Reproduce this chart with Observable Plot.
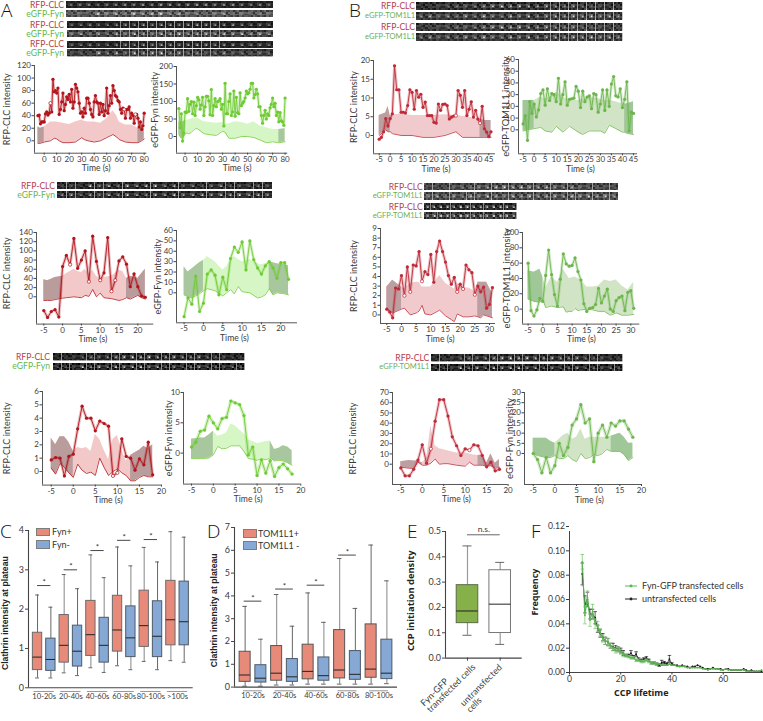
<!DOCTYPE html>
<html><head><meta charset="utf-8">
<script src="https://cdn.jsdelivr.net/npm/d3@7"></script>
<script src="https://cdn.jsdelivr.net/npm/@observablehq/plot@0.6"></script>
<style>
html,body{margin:0;padding:0;background:#fff}
#fig{position:relative;width:763px;height:721px;overflow:hidden;font-family:Lato,"Open Sans",sans-serif}
#fig>div{position:absolute}
.lab{text-align:right;white-space:nowrap;font-size:8.6px;line-height:10px}
.pl{font-family:"Open Sans",sans-serif;font-weight:300;font-size:19px;line-height:19px;color:#111}
.leg{font-size:9px;line-height:10px;color:#333;white-space:nowrap}
</style></head><body><div id="fig"></div>
<script>
// ---------- traces: values at 1 s steps from start; bands are [t, lower, upper]
const a1rValues=[40,41,27,30,30,30,43,46,41,44, 60,46,98,78,80,76,84,42,50,62, 76,48,58,70,66,74,62,82,52,62, 90,84,78,60,44,46,38,52,44,68, 68,60,50,42,38,62,72,62,60,42, 60,46,58,40,48,84,44,56,72,60, 88,80,72,70,64,62,50,44,52,50, 36,50,50,54,36,44,40,28,42,42, 36,22,30,18,24,44];
const a1rBand=[[-5,-4,22],[-3,-4,20],[0,-2,22],[5,0,30],[8,4,30],[10,3,30],[12,0,29],[15,-3,28],[20,-3,26],[25,-2,30],[30,5,33],[32,2,31],[35,0,30],[40,-2,30],[45,0,28],[50,5,35],[55,10,48],[58,6,40],[60,2,30],[65,-2,25],[70,-3,25],[75,-3,20],[78,0,20],[80,3,20]];
const a1gValues=[80,25,65,-13,10,70,68,108,72,92, 100,65,98,60,88,112,105,78,90,112, 60,85,115,115,102,62,134,60,88,108, 85,100,102,108,78,92,30,152,65,65, 100,122,60,70,130,58,112,68,65,125, 88,95,100,110,130,122,125,135,152,152, 110,120,135,122,85,85,60,38,60,75, 50,65,60,82,92,110,85,95,60,70, 42,68,45,42,32,110];
const a1gBand=[[-5,5,42],[-3,-5,40],[0,5,45],[1,10,46],[3,8,48],[5,12,50],[8,22,52],[10,22,52],[15,8,42],[20,5,40],[25,3,38],[30,15,40],[32,12,36],[35,-5,36],[40,-5,42],[45,0,40],[50,0,35],[55,-3,42],[60,-10,30],[65,-18,25],[70,-15,20],[75,-18,20],[80,-15,22]];
const b1rValues=[-1,-.5,1,4.5,2.5,4.5,5.8,18.6,12.2,12.2,6.2,6.2,6,8,12.2,11.5,7,12,10.2,11,7.5,8.9,5.3,5.3,5.3,3.5,3.3,8.4,6.7,8.3,8.4,8,4.4,4.9,5.2,5.3,12,10.7,7.5,12,5.3,7,9,4.9,6.7,4.4,3.3,7.8,1.8,.9,-.3,1];
const b1rBand=[[-5,0,5.3],[-2,1.5,6],[-1,1,7.7],[0,1,5.3],[1,.5,5.4],[5,0,5.8],[10,0,5.3],[15,-.5,5.3],[20,-.5,5.3],[25,0,5.5],[30,1,5.3],[33,-.5,5.1],[35,-.5,5],[40,-.5,4.4],[41,-.5,4.3],[43,-.5,4],[46,-.5,4]];
const b1gValues=[5,12,-9,24,14,22,11,17,31,34,21,35,25,31,30,24,44,22,30,41,21,26,26.5,27,37,33,19,33,24,28,29,18,31,30,15,22,34,16.5,34,20,39,45.5,29,28,35,19,26,41,-1,15,14];
const b1gBand=[[-5,-1,25],[-3,0,25],[0,1,25],[3,2,28],[5,-1,26],[8,-2,29],[10,3,32],[13,-2,28],[16,3,25],[20,-2,25],[22,-4,26],[25,-1,28],[30,-1,26],[32,-3,25],[34,4,25],[37,1,24],[40,-2,22],[41,-2,22],[42,-3,22],[45,-4,24]];
const a2rValues=[-30,-45,-32,-28,-44,66,90,70,127,62,80,100,33,132,77,36,52,129,12,36,78,87,71,22,50,22,2,-1];
const a2rBand=[[-5,-8,37],[-4,-8,35],[-3,-8,38],[-2,-6,42],[0,-3,45],[1,-2,50],[3,0,60],[4,-1,55],[5,-2,53],[6,3,60],[7,1,50],[8,16,58],[9,0,45],[10,8,40],[11,-2,42],[13,-4,45],[15,-8,58],[16,-6,55],[17,-2,40],[18,-5,45],[20,3,40],[21,-2,50],[22,-5,60]];
const a2gValues=[-23,-5,-11,16,-18,-10,18,22,17,-2,15,3,33,44,39,49,22,50,32,24,18,26,30,24,14,29,29,13];
const a2gBand=[[-5,-2,25],[-4,-4,20],[-3,-5,23],[-1,-1,29],[0,2,31],[1,4,35],[3,2,30],[5,-3,22],[6,0,25],[7,3,32],[8,-1,35],[9,6,32],[10,1,30],[12,0,32],[14,-5,28],[15,-4,27],[16,-2,28],[17,4,30],[18,-2,29],[19,0,28],[21,-1,27],[22,-2,26]];
const b2rValues=[.6,.3,-.3,2.8,2.7,4.1,2,5,2.4,5.2,5.1,6.6,3.5,4.5,4.2,6.3,3.4,6.6,7.7,6.6,5.5,4.1,3.2,3.9,2.4,3.2,2.7,5.2,4.7,4.4,2.1,3,2.4,2.9,.7,1.1,2.85];
const b2rBand=[[-5,.6,2.9],[-3,.2,3.6],[0,.6,2.9],[1,.7,2.7],[3,0,3.3],[5,.2,3.4],[6,.4,3.4],[7,1,2.9],[8,.1,2.9],[10,0,2.9],[13,.5,4.1],[15,-.1,3.3],[17,-.5,2.9],[18,-.7,2.7],[19,.1,3.3],[21,-.2,2.8],[23,-.2,2.8],[25,-.1,2.4],[26,-.2,3.4],[27,-.3,3.4],[28,0,3.4],[29,-.1,3.4],[30,-.2,2.8],[31,-.3,2.2]];
const b2gValues=[60,-2,-9,-1,14,10,44,77,45,19,4,39,72,59,56,57,67,49,38,7,-3,1,2,6,27,8,17,26,0,-3,11,15,17,-2,22,24,1];
const b2gBand=[[-5,13,50],[-3,10,48],[-1,9,52],[0,13,42],[1,2,28],[3,4,42],[5,2,35],[7,3,52],[8,-4,46],[9,-3,40],[10,-3,41],[11,1,42],[12,-2,40],[13,-1,38],[15,0,29],[17,-1,29],[19,-3,30],[21,-3,38],[23,-8,36],[25,-5,38],[27,-8,30],[29,-8,25],[31,-7,35]];
const a3rValues=[.87,1.05,1,-.33,1.13,1.3,3.2,4.9,4,4,3.05,3.78,3.6,3.4,-.33,-.1,2.45,1.13,1,.1,.95,.5,2.2,-.25];
const a3rBand=[[-5,.25,2.5],[-4,-.2,2],[-3,.6,2.6],[-2,.3,2.6],[-1,-.1,2.2],[0,-.45,1.5],[1,.55,1.8],[2,.1,1.7],[3,-.15,1.8],[4,-.05,1.5],[5,-.3,2.8],[6,1,2.4],[7,.3,1.6],[8,-.3,.9],[9,0,2.4],[10,.2,2.7],[11,-.1,1.6],[12,-.3,.8],[13,-.7,1.2],[14,-.7,1.4],[15,-.45,1.6],[16,-.3,1.9],[17,-.4,1.7],[18,-.4,2]];
const a3gValues=[1,1.8,3.6,3.8,6.1,5,4,5.7,5.9,8.6,8.3,8,6.2,-.3,1,-3.7,-1.15,-3.3,-1.25,-3.85,-2.4,-1.8,-2.6,-3.45];
const a3gBand=[[-5,-.9,2.3],[-3,-.9,2.5],[-2,-.9,2.5],[-1,-.8,3],[0,-.3,3.6],[1,1.1,2.8],[2,.7,3],[3,.8,3.3],[4,1.2,4.8],[5,1.2,4.5],[6,1.2,3.8],[7,.3,3.2],[8,-.9,2.2],[9,-1,1.9],[10,-1.2,1.6],[11,-.9,1.7],[12,-1.1,1.9],[13,-.8,2],[14,-1.3,.6],[15,-1.2,.8],[16,-1.3,1.2],[17,-1.6,1],[18,-2,.4]];
const b3rValues=[-3.6,-11.4,-11.4,-5,4,19,1,15,42,63,63,47,26.7,18,8.5,15,13.7,19,18,8.5,-2.6,2,-6.5,-5];
const b3rBand=[[-5,-3,2.5],[-3,-4,3.5],[-2,-4,3.2],[-1,2,3],[0,-1,1.5],[1,-1,5],[2,1,37],[3,5,18],[4,0,15],[5,.5,14],[6,.5,13],[8,-1,11],[10,-2,11],[11,2,10],[12,-1,9],[13,-1,8.5],[14,-1,9],[15,-2,1],[16,-1.5,10],[17,-4,1],[18,-3,4.5]];
const b3gValues=[0,-3,-9.5,-2,-9.5,-6,5,-1,3,14,17,24,15,17,-4,10,14,8,15,13.5,16,16,12,8];
const b3gBand=[[-5,0,7.5],[-4,-1,7.5],[-2,-2,7.5],[-1,-2,6],[0,-1,5],[1,-2.5,7],[2,-2.5,9],[3,-1,10],[4,-3,7],[5,-4,8],[6,0,12],[7,-2.5,7],[8,-2,8],[9,-.5,8],[10,-1,8],[11,0,8],[12,2,8],[13,1,8.5],[15,1,10],[16,-.5,8],[17,-3.5,5],[18,-2,5]];

// ---------- box plots: rows are [whisker high, q3, median, q1, whisker low]
const cCategories=["10-20s","20-40s","40-60s","60-80s","80-100s",">100s"];
const cPlus=[[2.36,1.4,.78,.45,.25],[2.88,1.85,1.08,.64,.38],[3.38,2.21,1.35,.81,.51],[3.58,2.34,1.47,.92,.56],[3.57,2.47,1.58,1.04,.67],[3.97,2.72,1.73,1.08,.69]];
const cMinus=[[2.05,1.25,.72,.43,.25],[2.52,1.58,.93,.54,.31],[2.8,1.78,1.08,.64,.39],[3.1,2.07,1.27,.78,.46],[3.2,2.2,1.31,.78,.46],[3.83,2.7,1.68,1.08,.65]];
const cSig=[2.6,3.0,3.49,3.75,3.77];
const dCategories=["10-20s","20-40s","40-60s","60-80s","80-100s"];
const dPlus=[[3.54,1.55,.53,.23,.04],[4.06,1.8,.61,.28,.09],[4.13,1.86,.69,.34,.13],[5.64,2.5,.75,.38,.13],[6.23,2.75,.79,.41,.13]];
const dMinus=[[2.1,.96,.39,.2,.04],[2.67,1.23,.45,.23,.09],[2.84,1.3,.5,.28,.13],[3.45,1.58,.56,.32,.13],[4.66,2.08,.61,.35,.15]];
const dSig=[3.77,4.3,4.47,5.79];
const eCategories=["Fyn-GFP\ntransfected cells","untransfected\ncells"];
const eRows=[[.443,.288,.186,.138,.09],[.378,.347,.213,.099,.054]];
const eSig=.487;

// ---------- lifetime histogram, 1 s bins from 5 s
const fGreen=[.091,.047,.062,.043,.05,.04,.038,.033,.028,.026,.025,.022,.02,.018,.019,.017,.015,.014,.013,.012,.012,.01,.01,.009,.009,.01,.009,.008,.008,.007,.007,.006,.006,.006,.007,.006,.006,.005,.005,.005,.005,.004,.004,.004,.004,.004,.004,.003,.003,.002,.003,.003,.003,.003,.002,.002,.003,.002,.002,.002,.002,.002,.002,.002,.001,.001,.001,.001,.001,.001,.002];
const fBlack=[.081,.056,.06,.048,.048,.045,.036,.032,.029,.026,.025,.022,.021,.02,.019,.018,.016,.014,.014,.016,.013,.015,.011,.01,.011,.012,.01,.008,.008,.007,.006,.008,.008,.007,.011,.007,.006,.006,.005,.006,.005,.005,.004,.005,.005,.006,.005,.004,.003,.003,.003,.004,.003,.003,.003,.002,.003,.003,.002,.002,.002,.002,.002,.003,.002,.001,.002,.001,.001,.001,.001];
const fGreenErr=[.006,.007,.005,.005,.006,.004,.004,.003,.003,.003,.003,.002,.002,.002,.002,.002,.002,.001,.001,.001,.001,.001,.001,.001,.001,.001,.001,.001,.001,.001];
const fBlackErr=[.009,.007,.006,.004,.004,.005,.003,.003,.003,.003,.003,.002,.003,.002,.002,.002,.002,.001,.001,.002,.001,.002,.001,.001,.001,.001,.001,.001,.001,.001,.001,.002,.001,.001,.003,.001];

// ---------- microscopy strips: brightness of the spot in each frame, and hand-set mottling kernels (4x4)
const spotA=[.5,.55,.6,.5,.55,.6,.65,.6,.7,.6,.75,.7,.6,.7,.75,.7,.6,.65,.7,.6,.55,.6,.5];
const spotB=[.6,.75,.5,.7,.55,.8,.6,.9,.7,.6,.85,.7,.9,.65,.75,.8,.7,.85,.75,.9,.7,.8,.65];
const spotC=[.2,.25,.3,.45,.55,.5,.6,.7,.85,.95,.8,.9,.75,.7,.8,.65,.6,.7,.5,.45,.4,.3,.3];
const spotD=[.35,.4,.3,.9,.6,.8,.55,.9,.7,.85,.95,.6,.75,.5,.6,.4,.55,.7,.45,.5,.4,.55,.45];
const spotE=[.7,.85,.9,.8,.75,.95,.85,.8,.7,.75,.9,.8,.85,.7];
const grainA=[.2,-.4,.6,-.2, -.5,.3,.1,.7, .8,-.1,.4,-.6, -.3,.5,-.7,.2];
const grainB=[-.6,.7,-.2,.4, .5,.2,-.4,-.1, -.2,.6,.3,.5, .9,-.5,.1,-.3];
const grainC=[.4,.1,-.6,.8, -.1,-.3,.5,.2, .6,.4,-.2,-.7, -.8,.3,.7,.1];
const grains=[grainA,grainB,grainC];

const figure=document.getElementById("fig");
const SANS='Lato,"Open Sans",sans-serif', ARIAL='"Liberation Sans",Arial,sans-serif';
const INK="#3a3a3a";
const at=(c,px)=>c[0]+(px-c[1])*(c[2]-c[0])/(c[3]-c[1]);
const ml=44,mr=10,mt=10,mb=26;
const plain=d=>String(d);

function put(html,left,top,cls,width){
  const d=document.createElement("div");d.className=cls||"";
  d.style.left=left+"px";d.style.top=top+"px";if(width)d.style.width=width+"px";
  d.innerHTML=html;figure.appendChild(d);return d;
}
function mount(plot,left,top){
  const d=document.createElement("div");d.style.left=left+"px";d.style.top=top+"px";
  d.appendChild(plot);figure.appendChild(d);
}
function frameAxes(f,xd,yd,o){
  return {
    width:f[1]-f[0]+ml+mr,height:f[3]-f[2]+mt+mb,marginLeft:ml,marginRight:mr,marginTop:mt,marginBottom:mb,
    x:{domain:xd,label:null,axis:null},y:{domain:yd,label:null,axis:null},
    style:{overflow:"visible",maxWidth:"none",background:"transparent",fontFamily:o.font||SANS,color:INK}
  };
}
const axisLines=(xd,yd,sw)=>[
  Plot.ruleX([xd[0]],{stroke:"#444",strokeWidth:sw||.9}),
  Plot.ruleY([yd[0]],{stroke:"#444",strokeWidth:sw||.9})
];

function tracePanel(p){
  const f=p.f;
  const xd=[at(p.xc,f[0]),at(p.xc,f[1])], yd=[at(p.yc,f[3]),at(p.yc,f[2])];
  const start=p.start===undefined?-5:p.start;
  const pts=p.values.map((v,i)=>({t:start+i,v,open:(p.hollow||[]).includes(start+i)}));
  const band=p.band.map(([t,lo,hi])=>({t,lo,hi}));
  const c=p.colors;
  const marks=[
    Plot.areaY(band,{x:"t",y1:"lo",y2:"hi",fill:c.band}),
    ...(p.dark||[]).map(([a,b])=>Plot.areaY(band.filter(d=>d.t>=a&&d.t<=b),{x:"t",y1:"lo",y2:"hi",fill:c.dark})),
    Plot.line(band,{x:"t",y:"lo",stroke:c.line,strokeWidth:.8}),
    Plot.line(pts,{x:"t",y:"v",stroke:c.line,strokeWidth:p.ribbon||3,strokeOpacity:.28}),
    Plot.line(pts,{x:"t",y:"v",stroke:c.line,strokeWidth:.9}),
    Plot.dot(pts.filter(d=>!d.open),{x:"t",y:"v",r:1.6,fill:c.line}),
    Plot.dot(pts.filter(d=>d.open),{x:"t",y:"v",r:1.6,fill:"white",stroke:c.line,strokeWidth:.7}),
    ...axisLines(xd,yd),
    Plot.axisX({ticks:p.xticks,tickFormat:plain,tickSize:2,tickPadding:1,fontSize:8,label:null,color:INK,stroke:"#444"}),
    Plot.axisY({ticks:p.yticks,tickFormat:plain,tickSize:2.5,tickPadding:1,fontSize:8,label:null,color:INK,stroke:"#444"}),
    Plot.text([p.xlabel||"Time (s)"],{x:()=>(p.xticks[0]+p.xticks[p.xticks.length-1])/2,frameAnchor:"bottom",dy:18,dx:2,fontSize:8.6,fill:INK}),
    Plot.text([p.ylabel],{frameAnchor:"left",textAnchor:"middle",rotate:-90,dx:-p.off,dy:p.ldy||0,fontSize:p.lfs||9,fill:INK})
  ];
  mount(Plot.plot({...frameAxes(f,xd,yd,{}),marks}),f[0]-ml,f[2]-mt);
}

const redA={line:"#b3141c",band:"#f2c9c8",dark:"#b99c9c"};
const grnA={line:"#6fcb34",band:"#d6f6c6",dark:"#a9c79e"};
const redB={line:"#bf2a38",band:"#f0cacc",dark:"#bb9fa1"};
const grnB={line:"#6db64d",band:"#d1e5c6",dark:"#a0c797"};
const t5=(a,b)=>d3.range(a,b+1,5);

tracePanel({f:[34.3,146.7,65,152.7],xc:[0,44,80,144],yc:[0,140.3,120,65],xticks:d3.range(0,81,10),yticks:d3.range(0,121,20),values:a1rValues,band:a1rBand,hollow:[5,64,73],dark:[[-5,0],[75,80]],colors:redA,ylabel:"RFP-CLC intensity",off:27});
tracePanel({f:[175.7,287,66,152.7],xc:[0,184.3,80,284.3],yc:[0,136,200,66],xticks:d3.range(0,81,10),yticks:d3.range(0,201,50),values:a1gValues,band:a1gBand,dark:[[-5,0],[75,80]],colors:grnA,ylabel:"eGFP-Fyn intensity",off:21});
tracePanel({f:[373,495,60,153.3],xc:[-5,378.7,45,488.3],yc:[0,135,20,60],xticks:t5(-5,45),yticks:t5(0,20),values:b1rValues,band:b1rBand,hollow:[30,41],dark:[[-5,0],[41,46]],colors:redB,ylabel:"RFP-CLC intensity",off:19});
tracePanel({f:[517.7,636.7,59,153.3],xc:[-5,522.3,45,632.7],yc:[0,129.3,60,59],xticks:t5(-5,45),yticks:d3.range(0,61,10),values:b1gValues,band:b1gBand,dark:[[-5,0],[41,45]],colors:grnB,ylabel:"eGFP-TOM1L1 intensity",off:13,lfs:9.4});
tracePanel({f:[36,153.3,231.7,323.3],xc:[-5,43.3,20,137.3],yc:[0,296,140,231.7],xticks:t5(-5,20),yticks:d3.range(0,141,20),values:a2rValues,band:a2rBand,hollow:[2,7,10,13,14],dark:[[-5,0],[17,22]],colors:redA,ylabel:"RFP-CLC intensity",off:29,ldy:-5});
tracePanel({f:[175.7,296.7,230,322.3],xc:[-5,183.3,20,280],yc:[0,292.3,60,230],xticks:t5(-5,20),yticks:d3.range(0,61,10),values:a2gValues,band:a2gBand,dark:[[-5,0],[17,22]],colors:grnA,ylabel:"eGFP-Fyn intensity",off:18});
tracePanel({f:[380,495,228.3,323.3],xc:[-5,386.3,30,489],yc:[0,314.7,9,228.3],xticks:t5(-5,30),yticks:d3.range(0,10),values:b2rValues,band:b2rBand,hollow:[1,3,7,19,21,25],dark:[[-5,0],[26,31]],colors:redB,ylabel:"RFP-CLC intensity",off:26});
tracePanel({f:[521.7,639,231.7,323.3],xc:[-5,527.3,30,630],yc:[0,308.3,100,231.7],xticks:t5(-5,30),yticks:d3.range(0,101,20),values:b2gValues,band:b2gBand,dark:[[-5,0]],colors:grnB,ylabel:"eGFP-TOM1L1 intensity",off:15.7,lfs:9.4});
tracePanel({f:[42.3,161.3,390.7,484.3],xc:[-5,51,20,161.3],yc:[0,470.7,6,390.7],xticks:t5(-5,20),yticks:d3.range(0,7),values:a3rValues,band:a3rBand,hollow:[9,10],dark:[[-5,0],[13,18]],colors:redA,ylabel:"RFP-CLC intensity",off:35.6});
tracePanel({f:[182.7,300,391.7,483.3],xc:[-5,190.7,20,300],yc:[0,452.3,10,391.7],xticks:t5(-5,20),yticks:[0,5,10],values:a3gValues,band:a3gBand,dark:[[-5,0],[13,18]],colors:grnA,ylabel:"eGFP-Fyn intensity",off:14.4,ribbon:3.6});
tracePanel({f:[391.7,507.3,392.3,484.3],xc:[-5,400,20,507.3],yc:[0,464,70,392.3],xticks:t5(-5,20),yticks:d3.range(0,71,10),values:b3rValues,band:b3rBand,hollow:[2,11],dark:[[-5,0],[13,18]],colors:redB,ylabel:"RFP-CLC intensity",off:39});
tracePanel({f:[524,641,392.3,484.3],xc:[-5,532.7,20,641],yc:[0,453.3,30,392.3],xticks:t5(-5,20),yticks:d3.range(0,31,5),values:b3gValues,band:b3gBand,dark:[[-5,0],[13,18]],colors:grnB,ylabel:"eGFP-Fyn intensity",off:14.7,ribbon:3.6,lfs:9.6});

// ---------- box panels
function boxPanel(o){
  const f=o.f, n=o.cats.length;
  const xd=[at(o.xc,f[0]),at(o.xc,f[1])], yd=[at(o.yc,f[3]),at(o.yc,f[2])];
  const rows=[];
  o.series.forEach((s,si)=>s.rows.forEach((r,i)=>rows.push({x:i+s.off,hi:r[0],q3:r[1],med:r[2],q1:r[3],lo:r[4],fill:s.fill,stroke:s.stroke,soft:s.soft?s.soft[i]:0})));
  const w=o.boxW/2;
  const wStroke=d=>d.soft?"#9a9a9a":"#565656";
  const marks=[
    Plot.ruleX(rows,{x:"x",y1:"lo",y2:"hi",stroke:wStroke,strokeWidth:d=>d.soft?1.2:.9}),
    Plot.ruleY(rows,{y:"hi",x1:d=>d.x-w/2.4,x2:d=>d.x+w/2.4,stroke:"#565656",strokeWidth:.9}),
    Plot.ruleY(rows,{y:"lo",x1:d=>d.x-w/2.4,x2:d=>d.x+w/2.4,stroke:"#565656",strokeWidth:.9}),
    Plot.rect(rows,{x1:d=>d.x-w,x2:d=>d.x+w,y1:"q1",y2:"q3",fill:d=>d.fill,stroke:d=>d.stroke,strokeWidth:1}),
    Plot.ruleY(rows,{y:"med",x1:d=>d.x-w,x2:d=>d.x+w,stroke:"#222",strokeWidth:1}),
    Plot.ruleY(o.sig,{y:d=>d,x1:(d,i)=>i-o.sigW,x2:(d,i)=>i+o.sigW,stroke:"#333",strokeWidth:.9}),
    ...axisLines(xd,yd,1.1),
    Plot.axisY({ticks:o.yticks,tickFormat:o.yfmt||plain,tickSize:3,tickPadding:1.5,fontSize:o.yfs||9,label:null,color:INK,stroke:"#444"}),
    Plot.text([o.ylabel],{frameAnchor:"left",textAnchor:"middle",rotate:-90,dx:-o.off,dy:o.ldy||0,fontSize:o.lfs||9,fontWeight:700,fontFamily:o.lfont||ARIAL,fill:"#222"})
  ];
  if(o.star) marks.push(Plot.text(o.sig,{y:d=>d,x:(d,i)=>i,text:()=>o.star,dy:-3,fontSize:8,fill:"#333"}));
  if(o.catLine) marks.push(
    Plot.ruleY(d3.range(n),{y:()=>yd[0],x1:i=>i-o.catLine,x2:i=>i+o.catLine,dy:3.7,stroke:"#8a8a8a",strokeWidth:.9}),
    Plot.axisX({ticks:d3.range(n),tickFormat:i=>o.cats[i],tickSize:0,tickPadding:o.catPad||6,fontSize:7.6,label:null,color:INK})
  );
  mount(Plot.plot({...frameAxes(f,xd,yd,{}),marks:[...marks,...(o.extra?o.extra(xd,yd):[])]}),f[0]-ml,f[2]-mt);
}
const RED="#e78a79",BLUE="#86a8d5";
boxPanel({f:[28.3,193,530,687.3],xc:[0,44,1,70.67],yc:[0,687.3,4,530],cats:cCategories,boxW:.35,
  series:[{rows:cPlus,off:-.25,fill:RED,stroke:"#6b6b6b",soft:[0,1,1,0,1,1]},{rows:cMinus,off:.25,fill:BLUE,stroke:"#4d5a68",soft:[0,0,1,1,0,0]}],
  sig:cSig,sigW:.25,star:"*",catLine:.38,yticks:d3.range(0,5),ylabel:"Clathrin intensity at plateau",off:23,ldy:4,lfs:8.7});
boxPanel({f:[233.7,396.7,526.7,686.3],xc:[0,252.2,1,283.7],yc:[0,686.3,7,526.7],cats:dCategories,boxW:.35,
  series:[{rows:dPlus,off:-.25,fill:RED,stroke:"#565656",soft:[0,1,0,1,0]},{rows:dMinus,off:.25,fill:BLUE,stroke:"#4d5a68",soft:[1,0,1,0,1]}],
  sig:dSig,sigW:.28,star:"*",catLine:.3,catPad:5,yticks:d3.range(0,8),ylabel:"Clathrin intensity at plateau",off:20.4,ldy:3,lfs:8.7});
boxPanel({f:[445,521.7,530.7,657.3],xc:[0,467,1,499.7],yc:[0,657.3,.5,530.7],cats:eCategories,boxW:.66,
  series:[{rows:[eRows[0]],off:0,fill:"#86b04a",stroke:"#5b6b45",soft:[1]},{rows:[eRows[1]],off:1,fill:"#ffffff",stroke:"#777",soft:[1]}],
  sig:[],yticks:[0,.1,.2,.3,.4,.5],yfmt:d3.format(".1f"),ylabel:"CCP initiation density",off:35,ldy:6,lfs:9.4,lfont:'"Open Sans",sans-serif',
  extra:()=>[
    Plot.ruleY([eSig],{x1:()=>0,x2:()=>1,stroke:"#555",strokeWidth:.9}),
    Plot.text(["n.s."],{x:()=>.5,y:()=>eSig,dy:-6,fontSize:8.5,fill:INK}),
    Plot.ruleX([0,1],{x:d=>d,y1:()=>0,y2:()=>-.012,stroke:"#444"}),
    Plot.text([eCategories[0]],{x:()=>0,frameAnchor:"bottom",dy:55,dx:-37,rotate:-45,textAnchor:"start",fontSize:9,fill:INK}),
    Plot.text([eCategories[1]],{x:()=>1,frameAnchor:"bottom",dy:55,dx:-30,rotate:-45,textAnchor:"start",fontSize:9,fill:INK})
  ]});

// ---------- F
(function(){
  const f=[569,763,531,672];
  const xc=[0,569,60,722.7],yc=[0,672,.12,526];
  const xd=[at(xc,f[0]),at(xc,f[1])], yd=[at(yc,f[3]),at(yc,f[2])];
  const mk=(vals,errs)=>vals.map((v,i)=>({t:5+i,v,e:errs[i]||0}));
  const G=mk(fGreen,fGreenErr),K=mk(fBlack,fBlackErr);
  const errs=(d,c,sw)=>{const e=d.filter(p=>p.e>0);return [
    Plot.ruleX(e,{x:"t",y1:p=>p.v-p.e,y2:p=>p.v+p.e,stroke:c,strokeWidth:sw}),
    Plot.link(e,{x1:p=>p.t-.7,x2:p=>p.t+.7,y1:p=>p.v+p.e,y2:p=>p.v+p.e,stroke:c,strokeWidth:sw}),
    Plot.link(e,{x1:p=>p.t-.7,x2:p=>p.t+.7,y1:p=>p.v-p.e,y2:p=>p.v-p.e,stroke:c,strokeWidth:sw})];};
  const marks=[
    ...errs(K,"#222",.7),
    Plot.line(K,{x:"t",y:"v",stroke:"#222",strokeWidth:.8}),
    Plot.dot(K,{x:"t",y:"v",r:.9,fill:"#111"}),
    ...errs(G,"#7fc875",.8),
    Plot.line(G,{x:"t",y:"v",stroke:"#5bb552",strokeWidth:1.1}),
    Plot.dot(G,{x:"t",y:"v",r:.9,fill:"#5bb552"}),
    ...axisLines(xd,yd,1),
    Plot.axisX({ticks:[0,20,40,60],tickFormat:plain,tickSize:2.5,tickPadding:1,fontSize:8.6,label:null,color:INK}),
    Plot.axisY({ticks:[0,.02,.04,.06,.08,.1,.12],tickFormat:d3.format(".2f"),tickSize:3,tickPadding:1.5,fontSize:8.6,label:null,color:INK}),
    Plot.text(["Frequency"],{frameAnchor:"left",textAnchor:"middle",rotate:-90,dx:-34,dy:-10,fontSize:9,fontWeight:700,fontFamily:'"Open Sans",sans-serif',fill:"#222"}),
    Plot.text(["CCP lifetime"],{x:()=>28,frameAnchor:"bottom",dy:23.5,fontSize:9,fontWeight:700,fontFamily:'"Open Sans",sans-serif',fill:"#222"})
  ];
  mount(Plot.plot({...frameAxes(f,xd,yd,{}),marks}),f[0]-ml,f[2]-mt);
})();

// ---------- strips
function strip(spots,x0,x1,y0,y1,level,noise){
  const h=y1-y0,w=x1-x0,n=spots.length;
  const cells=[];
  spots.forEach((s,i)=>{
    const g=grains[(i*7+Math.round(x0))%3];
    g.forEach((v,k)=>{
      const c=k%4,r=Math.floor(k/4);
      const lift=(c===1||c===2)&&(r===1||r===2)?s*.22:0;
      cells.push({x1:i+.03+c*.235,x2:i+.03+(c+1)*.235,y1:r,y2:r+1,b:Math.max(0,level+v*noise*.55+lift)});
    });
  });
  const plot=Plot.plot({width:w,height:h,margin:0,marginLeft:0,marginRight:0,marginTop:0,marginBottom:0,
    x:{domain:[0,n],axis:null,label:null},
    y:{domain:[0,4],axis:null,label:null},
    color:{type:"linear",domain:[0,1],range:["#000","#fff"],interpolate:"rgb",clamp:true},
    style:{maxWidth:"none",background:"transparent",display:"block"},
    marks:[
      Plot.rect(spots,{x1:(d,i)=>i+.03,x2:(d,i)=>i+.97,y1:()=>0,y2:()=>4,fill:()=>level*.8}),
      Plot.rect(cells,{x1:"x1",x2:"x2",y1:"y1",y2:"y2",fill:"b",shapeRendering:"crispEdges"}),
      Plot.dot(spots.map((s,i)=>({i,s})),{x:d=>d.i+.5,y:()=>2,r:.9,fill:d=>d.s})
    ]});
  const d=document.createElement("div");d.style.left=x0+"px";d.style.top=y0+"px";d.style.filter="blur(.45px)";
  d.appendChild(plot);figure.appendChild(d);
}
const RC="#b5414b",GC="#64b84c",GC2="#6aae58";
function label(text,right,y,color){
  const d=put(text,right-100,y-5,"lab",100);d.style.color=color;
  if(text.includes("TOM1L1")) d.style.fontSize="7.5px";
}
const strips=[
 [spotA,66,273,1.3,8.3,.13,.1,"RFP-CLC",RC,64],[spotD,66,273,10.3,17.3,.3,.28,"eGFP-Fyn",GC,64],
 [spotA,67,273,21,28.3,.12,.1,"RFP-CLC",RC,64],[spotB,67,273,30,37.3,.24,.25,"eGFP-Fyn",GC,64],
 [spotA,67,273,40.7,48,.13,.1,"RFP-CLC",RC,64],[spotD,67,273,49.3,56.7,.2,.2,"eGFP-Fyn",GC,64],
 [spotC,416,622.7,2.3,10,.16,.25,"RFP-CLC",RC,415],[spotB,416,622.7,12.3,20,.2,.2,"eGFP-TOM1L1",GC2,415],
 [spotC,416,622.7,23.3,31,.2,.25,"RFP-CLC",RC,415],[spotB,416,622.7,33.3,41,.2,.2,"eGFP-TOM1L1",GC2,415],
 [spotD,57.3,272.3,182,189.3,.14,.2,"RFP-CLC",RC,55],[spotB,57.3,272.3,191,198.3,.15,.2,"eGFP-Fyn",GC,55],
 [spotC,424,618,182.7,190.3,.24,.25,"RFP-CLC",RC,422.7],[spotB,424,618,192,199.7,.26,.25,"eGFP-TOM1L1",GC2,422.7],
 [spotE,424,516.7,203,210.3,.14,.2,"RFP-CLC",RC,422.7],[spotE,424,516.7,212.3,219.3,.2,.3,"eGFP-TOM1L1",GC2,422.7],
 [spotC,53.3,245,353.3,360.7,.12,.2,"RFP-CLC",RC,50],[spotD,53.3,245,362.7,370,.12,.3,"eGFP-Fyn",GC,50],
 [spotC,431,622.7,354.3,361.7,.14,.2,"RFP-CLC",RC,429.3],[spotD,431,622.7,363.7,371,.12,.25,"eGFP-TOM1L1",GC2,429.3]
];
strips.forEach(([s,x0,x1,y0,y1,lv,nz,t,c,r])=>{strip(s,x0,x1,y0,y1,lv,nz);label(t,r,(y0+y1)/2,c);});

// ---------- panel letters
[["A",1,1],["B",349,1],["C",0,522],["D",207,522],["E",407,522],["F",531,522]].forEach(([t,x,y])=>put(t,x,y,"pl"));

// ---------- legends
const sw=(c,b)=>`<span style="display:block;width:100%;height:100%;box-sizing:border-box;background:${c};border:1px solid ${b}"></span>`;
function boxLegend(items,x,w,ys,tx){
  items.forEach(([t,c],i)=>{
    const s=put(sw(c,"#7d7d7d"),x,ys[i],"");s.style.width=w+"px";s.style.height="8.5px";
    put(t,tx,ys[i]-.5,"leg");
  });
}
boxLegend([["Fyn+",RED],["Fyn-",BLUE]],35.5,14,[527.5,540],52);
boxLegend([["TOM1L1+",RED],["TOM1L1 -",BLUE]],242.5,14,[529,541],258);
function lineLegend(t,c,y){
  const d=put(`<svg width="12" height="6" style="display:block"><line x1="0" x2="12" y1="3" y2="3" stroke="${c}" stroke-width="1"/><circle cx="6" cy="3" r="1.4" fill="${c}"/></svg>`,625,y-3,"");
  put(t,642,y-5,"leg");
}
lineLegend("Fyn-GFP transfected cells","#5bb552",586);
lineLegend("untransfected cells","#222",599);
</script></body></html>
